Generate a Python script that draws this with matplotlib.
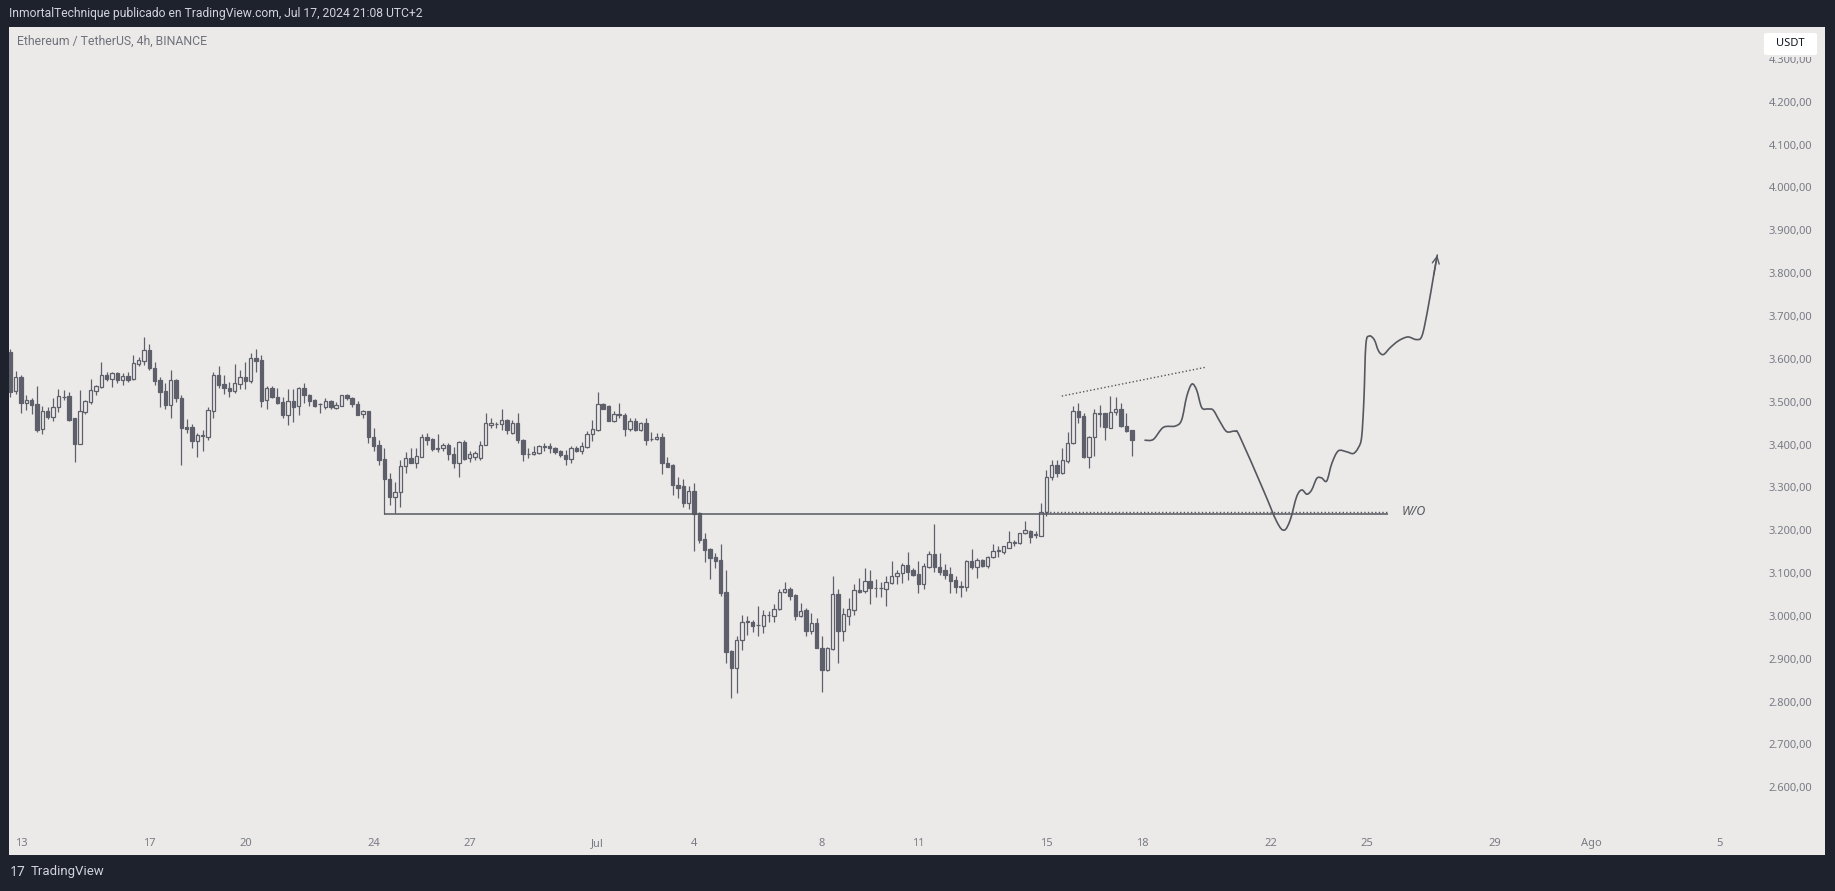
import matplotlib
matplotlib.use("Agg")
import matplotlib.pyplot as plt
from matplotlib.patches import Rectangle, FancyBboxPatch, PathPatch
from matplotlib.path import Path
from matplotlib import font_manager as fm

# ---------------- data ----------------
# 4h candles, first candle = Jun 12 16:00 (day offset -1/3), step 1/6 day
opens = [3617,3525,3558,3498,3504,3495,3437,3478,3465,3487,3510,3513,3461,3401,3476,3500,3526,3535,3562,3554,
         3568,3551,3560,3552,3588,3596,3621,3579,3551,3525,3492,3551,3508,3440,3440,3409,3421,3418,3479,3562,
         3541,3533,3525,3541,3557,3548,3603,3597,3504,3533,3510,3500,3469,3502,3490,3531,3516,3504,3494,3488,
         3502,3486,3491,3516,3508,3494,3471,3478,3417,3399,3366,3319,3277,3288,3350,3368,3358,3372,3418,3414,
         3390,3391,3399,3378,3358,3407,3368,3372,3369,3400,3446,3447,3448,3457,3428,3451,3411,3377,3378,3381,
         3394,3397,3393,3386,3376,3366,3392,3386,3394,3424,3435,3495,3491,3456,3469,3469,3436,3455,3434,3451,
         3412,3413,3418,3356,3352,3305,3302,3263,3291,3239,3179,3156,3137,3130,3055,2918,2878,2944,2988,2986,
         2978,2976,3001,3000,3016,3055,3063,3049,3000,3014,2965,2983,2926,2874,2923,3050,2965,3000,3014,3060,
         3057,3081,3064,3064,3062,3076,3092,3099,3119,3106,3098,3074,3115,3144,3113,3106,3098,3084,3067,3067,
         3128,3113,3130,3117,3137,3151,3150,3159,3170,3169,3193,3199,3188,3187,3242,3325,3352,3334,3362,3403,
         3479,3467,3372,3417,3472,3473,3439,3477,3482,3444,3434]
highs = [3624,3572,3562,3516,3508,3537,3490,3488,3508,3529,3527,3523,3463,3527,3504,3554,3539,3593,3570,3570,
         3570,3568,3570,3609,3605,3652,3635,3592,3558,3543,3574,3554,3516,3459,3448,3428,3434,3488,3570,3583,
         3562,3547,3588,3574,3593,3613,3622,3609,3537,3537,3533,3512,3529,3529,3535,3544,3519,3506,3496,3508,
         3505,3500,3516,3518,3510,3502,3481,3478,3438,3411,3391,3333,3312,3364,3383,3391,3391,3425,3428,3416,
         3425,3404,3403,3395,3409,3411,3386,3386,3409,3473,3463,3453,3484,3459,3457,3473,3412,3391,3397,3399,
         3404,3403,3395,3387,3387,3397,3396,3405,3431,3457,3523,3496,3492,3478,3496,3473,3461,3461,3453,3461,
         3430,3428,3428,3372,3354,3323,3319,3303,3309,3242,3193,3159,3146,3167,3107,2920,2954,3002,3000,2990,
         3024,3014,3011,3027,3063,3078,3068,3050,3029,3019,3006,2996,2954,2928,3092,3063,3019,3042,3074,3088,
         3111,3106,3085,3080,3092,3127,3106,3124,3148,3111,3127,3124,3152,3214,3146,3121,3113,3092,3082,3130,
         3155,3134,3132,3140,3168,3162,3164,3199,3176,3194,3222,3200,3197,3264,3340,3365,3365,3391,3430,3490,
         3496,3473,3420,3484,3492,3474,3513,3510,3496,3473,3435]
lows = [3511,3519,3474,3481,3471,3430,3425,3459,3456,3477,3504,3456,3360,3401,3471,3495,3516,3533,3549,3535,
        3544,3539,3547,3551,3583,3586,3574,3539,3488,3484,3461,3500,3352,3428,3391,3370,3386,3411,3463,3531,
        3518,3510,3521,3529,3529,3543,3570,3488,3483,3508,3495,3463,3446,3453,3469,3498,3490,3488,3473,3484,
        3484,3483,3490,3505,3488,3469,3461,3404,3386,3352,3237,3259,3241,3255,3334,3356,3344,3370,3399,3386,
        3383,3386,3364,3344,3323,3364,3360,3365,3365,3399,3438,3438,3435,3425,3424,3403,3362,3368,3376,3378,
        3386,3381,3378,3370,3352,3356,3383,3379,3391,3408,3431,3483,3455,3452,3461,3421,3432,3431,3431,3399,
        3408,3411,3330,3348,3281,3274,3253,3249,3152,3169,3125,3086,3111,3047,2889,2808,2819,2920,2956,2962,
        2954,2959,2985,2986,3014,3053,3037,2990,2998,2954,2957,2924,2822,2871,2920,2889,2941,2979,3002,3053,
        3053,3028,3045,3045,3022,3074,3074,3076,3084,3092,3053,3062,3111,3103,3095,3085,3053,3053,3043,3059,
        3109,3088,3115,3111,3134,3138,3144,3158,3162,3168,3191,3171,3181,3186,3232,3317,3323,3331,3356,3401,
        3451,3368,3344,3373,3440,3411,3438,3470,3442,3430,3374]
closes = [3523,3557,3498,3504,3492,3435,3479,3465,3487,3513,3512,3457,3401,3478,3502,3527,3537,3562,3553,3568,
          3551,3561,3551,3591,3597,3621,3578,3549,3523,3492,3551,3508,3438,3436,3409,3422,3422,3481,3562,3539,
          3533,3525,3543,3557,3549,3603,3596,3502,3533,3510,3498,3469,3502,3488,3533,3516,3502,3491,3495,3502,
          3487,3492,3516,3508,3494,3470,3478,3417,3397,3364,3319,3277,3288,3350,3368,3358,3373,3418,3411,3389,
          3392,3399,3378,3358,3407,3366,3379,3381,3400,3451,3451,3449,3457,3434,3451,3411,3378,3379,3383,3397,
          3396,3391,3383,3376,3366,3391,3386,3397,3424,3436,3495,3484,3456,3471,3471,3436,3455,3434,3451,3410,
          3413,3418,3356,3348,3305,3299,3263,3291,3238,3177,3154,3134,3129,3053,2916,2878,2944,2986,2985,2977,
          2979,3002,3003,3016,3055,3063,3047,3000,3011,2965,2983,2926,2874,2924,3050,2965,3004,3016,3060,3056,
          3081,3064,3065,3064,3078,3093,3101,3119,3103,3095,3074,3116,3144,3113,3103,3095,3082,3068,3069,3128,
          3113,3130,3117,3138,3152,3153,3162,3173,3172,3193,3200,3185,3190,3242,3325,3352,3334,3364,3404,3479,
          3465,3370,3417,3473,3474,3440,3477,3482,3444,3432,3411]
first_candle_day = -1.0 / 3.0
candle_step_days = 1.0 / 6.0

# date ticks (days after Jun 13)
tick_days = [0, 4, 7, 11, 14, 18, 21, 25, 28, 32, 35, 39, 42, 46, 49, 53]
tick_labels = ["13", "17", "20", "24", "27", "Jul", "4", "8", "11", "15", "18", "22", "25", "29", "Ago", "5"]
price_ticks = [2600, 2700, 2800, 2900, 3000, 3100, 3200, 3300, 3400, 3500,
               3600, 3700, 3800, 3900, 4000, 4100, 4200, 4300]

# drawings
support_level = 3237.5
support_start_day = 11.33
wo_level = 3243
wo_start_day = 32.0
lines_end_day = 42.66
trend_days = [32.48, 36.95]
trend_prices = [3513, 3580]
path_days = [35.08, 35.34, 35.65, 36.02, 36.22, 36.38, 36.54, 36.69, 36.85, 37.05, 37.21, 37.42,
             37.63, 37.89, 38.04, 38.77, 39.19, 39.42, 39.61, 39.81, 39.97, 40.13, 40.28, 40.44,
             40.59, 40.75, 40.91, 41.11, 41.37, 41.58, 41.74, 41.84, 41.91, 41.97, 42.07, 42.23,
             42.37, 42.52, 42.73, 42.99, 43.28, 43.54, 43.72, 43.90, 44.09, 44.20]
path_prices = [3410, 3412, 3440, 3443, 3457, 3512, 3541, 3527, 3486, 3483, 3480, 3453,
               3430, 3431, 3418, 3294, 3220, 3200, 3224, 3278, 3294, 3284, 3294, 3321,
               3322, 3315, 3356, 3385, 3383, 3379, 3393, 3418, 3504, 3632, 3653, 3645,
               3618, 3610, 3626, 3642, 3651, 3645, 3653, 3714, 3796, 3842]

# ---------------- style ----------------
W, H = 1835, 891
DARK = "#1e222d"
BG = "#eceae8"
CANDLE = "#5d606b"
TEXT = "#787b86"
DRAW = "#555860"


def pick(*names):
    for n in names:
        try:
            fm.findfont(fm.FontProperties(family=n), fallback_to_default=False)
            return n
        except Exception:
            continue
    return "DejaVu Sans"


HEAD = pick("Roboto", "Open Sans", "DejaVu Sans")
REG = pick("Noto Sans", "DejaVu Sans")

fig = plt.figure(figsize=(W / 100, H / 100), dpi=100, facecolor=DARK)


def fx(px):
    return px / W


def fy(py):
    return 1 - py / H


# light panel
fig.add_artist(Rectangle((fx(9), fy(855)), fx(1825) - fx(9), fy(27) - fy(855),
                         transform=fig.transFigure, facecolor=BG, edgecolor="none", zorder=0))

ax = fig.add_axes([fx(9), fy(827), fx(1760) - fx(9), fy(27) - fy(827)])
ax.set_facecolor(BG)
ax.patch.set_alpha(0)
for s in ax.spines.values():
    s.set_visible(False)

xs = [first_candle_day + i * candle_step_days for i in range(len(opens))]
bottoms = [min(o, c) for o, c in zip(opens, closes)]
heights = [max(abs(c - o), 1.5) for o, c in zip(opens, closes)]
faces = [BG if c >= o else CANDLE for o, c in zip(opens, closes)]

ax.vlines(xs, lows, highs, color=CANDLE, linewidth=0.9, zorder=2)
ax.bar(xs, heights, bottom=bottoms, width=0.105, color=faces, edgecolor=CANDLE,
       linewidth=0.9, zorder=3)

# drawings
ax.hlines(support_level, support_start_day, lines_end_day, color=DRAW, linewidth=1.1, zorder=4)
ax.hlines(wo_level, wo_start_day, lines_end_day, color=DRAW, linewidth=1.0,
          linestyles=(0, (1, 1.6)), zorder=4)
ax.plot(trend_days, trend_prices, color=DRAW, linewidth=1.0, linestyle=(0, (1, 1.6)), zorder=4)

# smooth hand-drawn projection: Catmull-Rom through the traced points, drawn as cubic Beziers
pts = list(zip(path_days, path_prices))
verts = [pts[0]]
codes = [Path.MOVETO]
for k in range(len(pts) - 1):
    p0 = pts[k - 1] if k > 0 else pts[k]
    p1 = pts[k]
    p2 = pts[k + 1]
    p3 = pts[k + 2] if k + 2 < len(pts) else pts[k + 1]
    c1 = (p1[0] + (p2[0] - p0[0]) / 6.0, p1[1] + (p2[1] - p0[1]) / 6.0)
    c2 = (p2[0] - (p3[0] - p1[0]) / 6.0, p2[1] - (p3[1] - p1[1]) / 6.0)
    verts += [c1, c2, p2]
    codes += [Path.CURVE4, Path.CURVE4, Path.CURVE4]
ax.add_patch(PathPatch(Path(verts, codes), fill=False, edgecolor=DRAW, linewidth=1.2,
                       joinstyle="round", capstyle="round", zorder=4))
ax.annotate("", xy=(path_days[-1], path_prices[-1]), xytext=(path_days[-2], path_prices[-2]),
            arrowprops=dict(arrowstyle="->,head_length=0.5,head_width=0.25", color=DRAW, lw=1.0,
                            shrinkA=0, shrinkB=0), zorder=4)
ax.text(43.1, wo_level, "W/O", style="italic", fontsize=9, color=DRAW, va="center", ha="left",
        family=REG)

ax.set_xlim((9 - 21.1) / 32.04, (1760 - 21.1) / 32.04)
ax.set_ylim(4200 - (827 - 101.7) * 2.3337, 4200 + (101.7 - 27) * 2.3337)

ax.set_xticks(tick_days)
ax.set_xticklabels(tick_labels)
ax.yaxis.tick_right()
ax.set_yticks(price_ticks)
ax.set_yticklabels([f"{v:,.2f}".replace(",", "X").replace(".", ",").replace("X", ".") for v in price_ticks])
ax.tick_params(axis="x", length=0, pad=8, labelsize=8, labelcolor=TEXT)
ax.tick_params(axis="y", length=0, pad=6, labelsize=8, labelcolor=TEXT)
for lab in ax.get_xticklabels() + ax.get_yticklabels():
    lab.set_family(REG)

# USDT box (with a panel-coloured margin that clips the top label)
fig.add_artist(Rectangle((fx(1762), fy(57)), fx(1822) - fx(1762), fy(31) - fy(57),
                         transform=fig.transFigure, facecolor=BG, edgecolor="none", zorder=5))
fig.add_artist(FancyBboxPatch((fx(1764), fy(55)), fx(1817) - fx(1764), fy(33) - fy(55),
                              boxstyle="round,pad=0,rounding_size=0.002", transform=fig.transFigure,
                              facecolor="white", edgecolor="none", zorder=6))
fig.text(fx(1790.5), fy(44), "USDT", color="#131722", fontsize=8, ha="center", va="center",
         family=REG, zorder=7)

# header / title / footer
fig.text(fx(9), fy(14), "InmortalTechnique publicado en TradingView.com, Jul 17, 2024 21:08 UTC+2",
         color="#d1d4dc", fontsize=8.75, ha="left", va="center", family=HEAD)
fig.text(fx(17), fy(41), "Ethereum / TetherUS, 4h, BINANCE", color="#6f727c", fontsize=8.85,
         ha="left", va="center", family=HEAD)
fig.text(fx(10), fy(872), "17", color="#d1d4dc", fontsize=10, fontweight="bold",
         ha="left", va="center", family=REG)
fig.text(fx(31), fy(872), "TradingView", color="#d1d4dc", fontsize=9.5, ha="left", va="center",
         family=HEAD)

fig.savefig("out.png", dpi=100, facecolor=DARK)
